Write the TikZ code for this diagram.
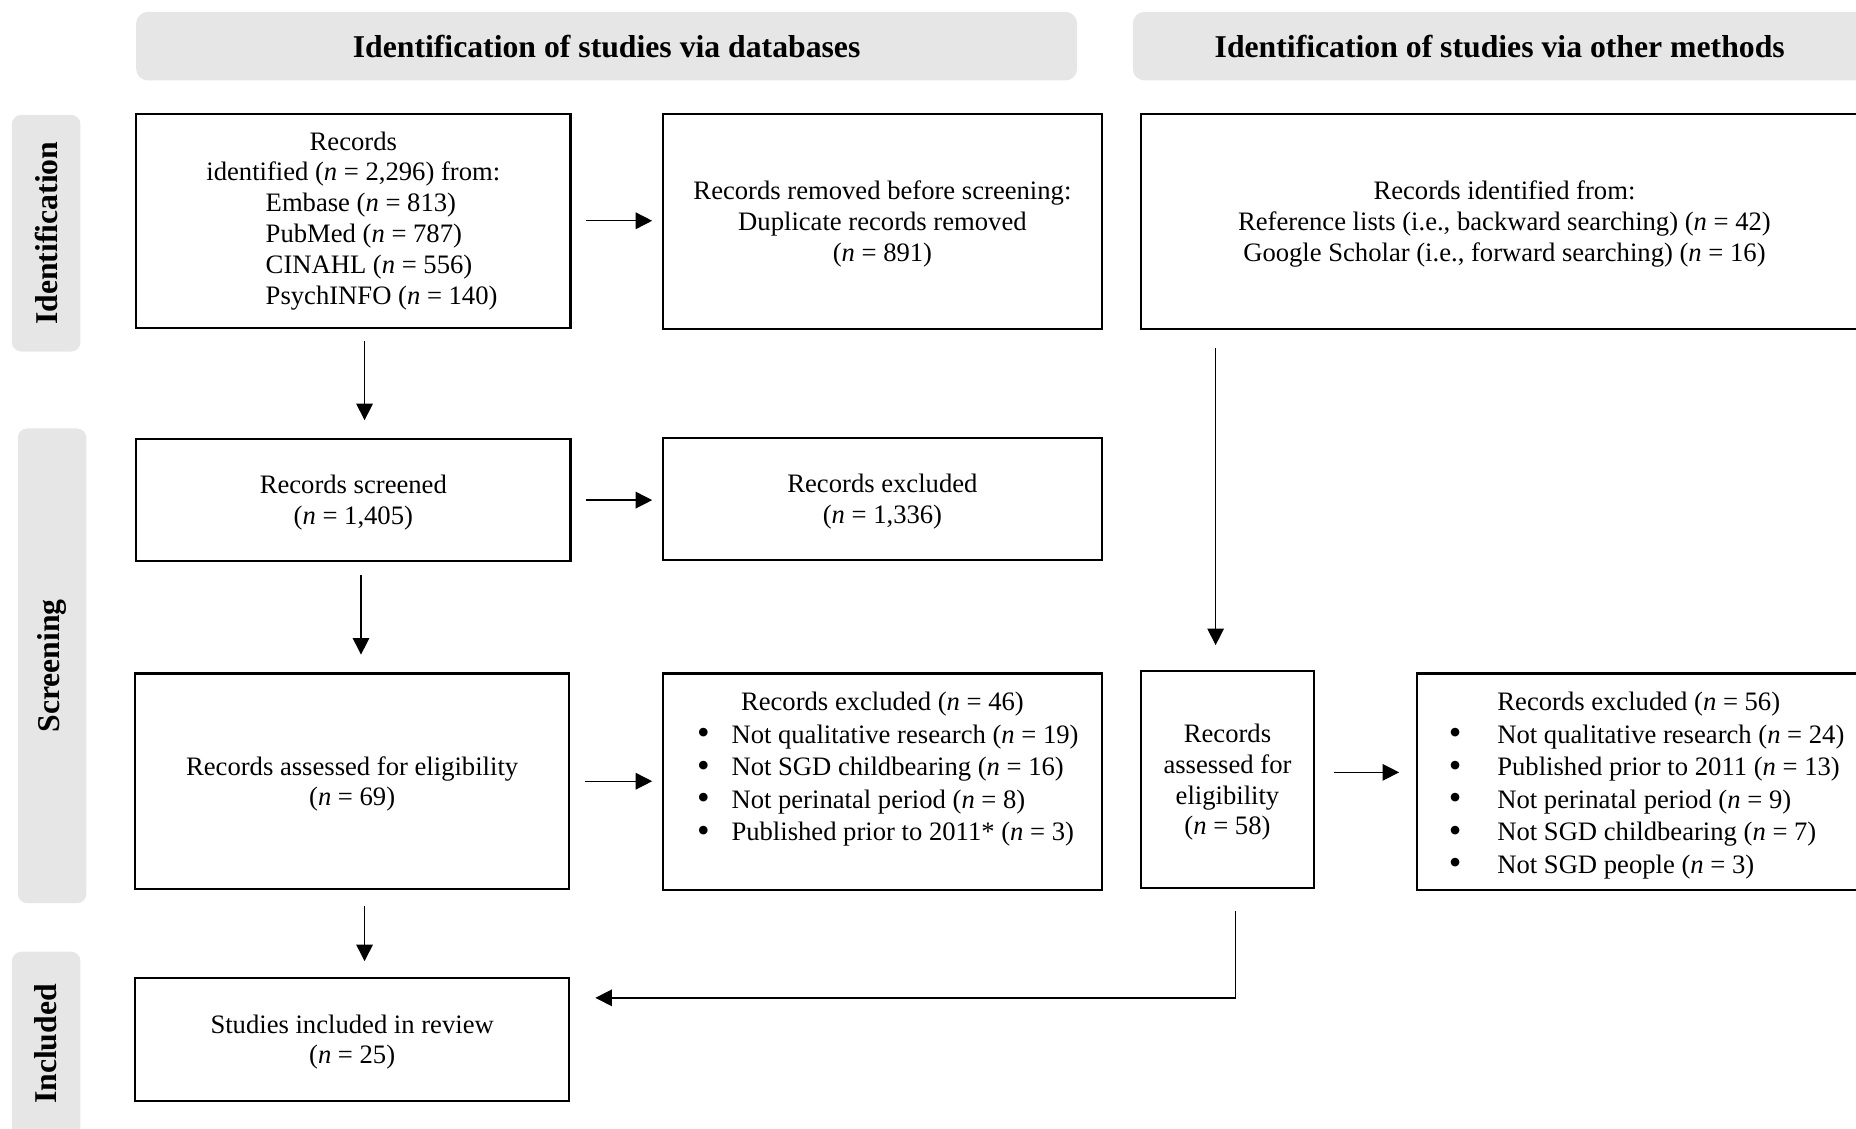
\documentclass[tikz,border=0pt]{standalone}
\usepackage{fontspec}
\setmainfont{Liberation Serif}
\usepackage{tikz}
\usetikzlibrary{arrows.meta, positioning, calc}
\definecolor{headgray}{RGB}{230,230,230}

\newcommand{\bul}{\raisebox{-0.6pt}{\scalebox{1.35}{\textbullet}}}

\tikzset{
  box/.style={draw, line width=0.9pt, inner sep=0pt, outer sep=0pt, align=center, font=\fontsize{11.25}{13}\selectfont},
  lowbox/.style={box, text depth=-0.6pt},
  head/.style={fill=headgray, rounded corners=5pt, inner sep=0pt, minimum height=29pt, font=\fontsize{13.4}{15}\selectfont\bfseries},
  side/.style={fill=headgray, rounded corners=4pt, inner sep=0pt, rotate=90, minimum height=29pt, font=\fontsize{13.4}{15}\selectfont\bfseries},
  arrow/.style={-{Triangle[length=7pt,width=7pt]}, line width=0.6pt},
}

\begin{document}
\begin{tikzpicture}[x=0.5pt, y=-0.5pt]
\useasboundingbox (0,0) rectangle (1568,953);

% Column headers
\node[head, minimum width=397.5pt] (hdb) at (512.5,39) {Identification of studies via databases};
\node[head, minimum width=310pt] (hot) at (1267,39) {Identification of studies via other methods};

% Phase bars
\node[side, minimum width=100pt] (pid) at (39,197) {Identification};
\node[side, minimum width=200.5pt] (psc) at (44,562.5) {Screening};
\node[side, minimum width=78pt] (pin) at (39,882) {Included};

% Databases column
\node[box, minimum width=183.5pt, minimum height=90.5pt] (ident) at (298.5,186.5)
  {Records\\identified (\textit{n} = 2,296) from:\\
   \makebox[74pt][l]{Embase (\textit{n} = 813)}\\
   \makebox[74pt][l]{PubMed (\textit{n} = 787)}\\
   \makebox[74pt][l]{CINAHL (\textit{n} = 556)}\\
   \makebox[74pt][l]{PsychINFO (\textit{n} = 140)}};
\node[lowbox, minimum width=185.5pt, minimum height=91pt] (dupl) at (745.5,187)
  {Records removed before screening:\\Duplicate records removed\\(\textit{n} = 891)};
\node[lowbox, minimum width=183.5pt, minimum height=51.5pt] (scr) at (298.5,422.5)
  {Records screened\\(\textit{n} = 1,405)};
\node[lowbox, minimum width=185.5pt, minimum height=51.5pt] (excl) at (745.5,421.5)
  {Records excluded\\(\textit{n} = 1,336)};
\node[lowbox, minimum width=183.5pt, minimum height=91pt] (elig) at (297.5,660)
  {Records assessed for eligibility\\(\textit{n} = 69)};
\node[box, minimum width=185.5pt, minimum height=91.5pt] (exel) at (745.5,660.5)
  {\parbox[c][91.5pt][t]{185.5pt}{\fontsize{11.25}{13.7}\selectfont\vspace*{8pt}%
   {\centering Records excluded (\textit{n} = 46)\par}
   \raggedright
   \hspace*{14.5pt}\makebox[14.5pt][l]{\bul}Not qualitative research (\textit{n} = 19)\\
   \hspace*{14.5pt}\makebox[14.5pt][l]{\bul}Not SGD childbearing (\textit{n} = 16)\\
   \hspace*{14.5pt}\makebox[14.5pt][l]{\bul}Not perinatal period (\textit{n} = 8)\\
   \hspace*{14.5pt}\makebox[14.5pt][l]{\bul}Published prior to 2011* (\textit{n} = 3)}};
\node[lowbox, minimum width=183.5pt, minimum height=52pt] (incl) at (297.5,878)
  {Studies included in review\\(\textit{n} = 25)};

% Other methods column
\node[lowbox, minimum width=307pt, minimum height=91pt] (other) at (1271,187)
  {Records identified from:\\Reference lists (i.e., backward searching) (\textit{n} = 42)\\
   Google Scholar (i.e., forward searching) (\textit{n} = 16)};
\node[lowbox, minimum width=73pt, minimum height=91.5pt] (oelig) at (1037,658.5)
  {Records\\assessed for\\eligibility\\(\textit{n} = 58)};
\node[box, minimum width=187.5pt, minimum height=91.5pt] (oexel) at (1384.5,660.5)
  {\parbox[c][91.5pt][t]{187.5pt}{\fontsize{11.25}{13.7}\selectfont\vspace*{8pt}%
   {\centering Records excluded (\textit{n} = 56)\par}
   \raggedright
   \hspace*{13.5pt}\makebox[20.5pt][l]{\bul}Not qualitative research (\textit{n} = 24)\\
   \hspace*{13.5pt}\makebox[20.5pt][l]{\bul}Published prior to 2011 (\textit{n} = 13)\\
   \hspace*{13.5pt}\makebox[20.5pt][l]{\bul}Not perinatal period (\textit{n} = 9)\\
   \hspace*{13.5pt}\makebox[20.5pt][l]{\bul}Not SGD childbearing (\textit{n} = 7)\\
   \hspace*{13.5pt}\makebox[20.5pt][l]{\bul}Not SGD people (\textit{n} = 3)}};

% Arrows, databases
\draw[arrow, shorten <=6.5pt, shorten >=4.5pt] (ident.east) -- (ident.east -| dupl.west);
\draw[arrow, shorten <=5.5pt, shorten >=8pt] ([xshift=4.75pt]ident.south) -- ([xshift=4.75pt]ident.south |- scr.north);
\draw[arrow, shorten <=6.5pt, shorten >=4.5pt] (scr.east) -- (scr.east -| excl.west);
\draw[arrow, shorten <=6pt, shorten >=8pt] ([xshift=3.25pt]scr.south) -- ([xshift=3.25pt]scr.south |- elig.north);
\draw[arrow, shorten <=6.5pt, shorten >=4.5pt] (elig.east) -- (elig.east -| exel.west);
\draw[arrow, shorten <=7pt, shorten >=7pt] ([xshift=5.25pt]elig.south) -- ([xshift=5.25pt]elig.south |- incl.north);

% Arrows, other methods
\draw[arrow, shorten <=8pt, shorten >=11pt] ([xshift=-5pt]oelig.north |- other.south) -- ([xshift=-5pt]oelig.north);
\draw[arrow, shorten <=8.5pt, shorten >=7.5pt] ([yshift=3pt]oelig.east) -- ([yshift=3pt]oelig.east -| oexel.west);
\coordinate (hs) at ([xshift=3.5pt]oelig.south);
\coordinate (hj) at ([yshift=17.5pt]incl.east);
\draw[arrow, shorten <=10pt, shorten >=11pt] (hs) -- (hs |- hj) -- (hj);

\end{tikzpicture}
\end{document}
